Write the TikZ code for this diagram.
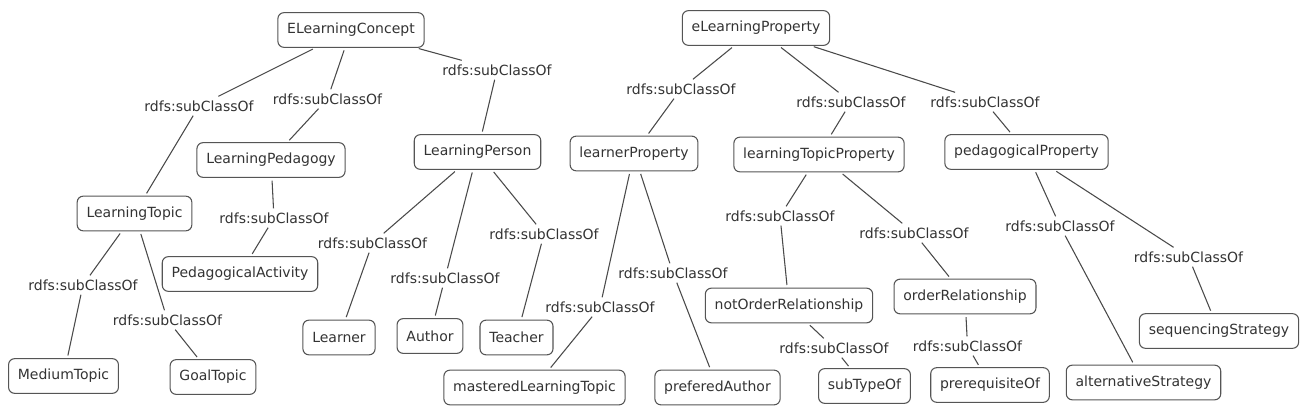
\documentclass[tikz,border=0pt]{standalone}
\usepackage{fontspec}
\setmainfont{DejaVu Sans}
\definecolor{boxc}{HTML}{555555}
\definecolor{linec}{HTML}{4A4A4A}
\definecolor{txtc}{HTML}{333333}
\begin{document}
\begin{tikzpicture}[x=0.75pt,y=-0.75pt,
  cls/.style={draw=boxc, rounded corners=4.5pt, line width=0.8pt, minimum height=26pt, inner xsep=7pt, text=txtc, font=\fontsize{10.5}{12}\selectfont},
  lbl/.style={inner xsep=2pt, inner ysep=3pt, text=txtc, font=\fontsize{10.5}{12}\selectfont},
  ln/.style={draw=linec, line width=0.8pt}]
\fill[white] (0,0) rectangle (1309,420);
\useasboundingbox (0,0) rectangle (1309,420);
% class nodes
\node[cls] (ELC) at (351,30) {ELearningConcept};
\node[cls] (LPed) at (271,160) {LearningPedagogy};
\node[cls] (LT) at (134.5,213.5) {LearningTopic};
\node[cls] (PA) at (240,274) {PedagogicalActivity};
\node[cls] (MT) at (63.5,376) {MediumTopic};
\node[cls] (GT) at (213,377) {GoalTopic};
\node[cls] (LPer) at (477.5,152) {LearningPerson};
\node[cls] (Lrn) at (339,337.5) {Learner};
\node[cls] (Aut) at (430,336) {Author};
\node[cls] (Tea) at (516.5,337.5) {Teacher};
\node[cls] (eLP) at (756,28) {eLearningProperty};
\node[cls] (lP) at (634,153.5) {learnerProperty};
\node[cls] (lTP) at (819,154.5) {learningTopicProperty};
\node[cls] (pP) at (1026.5,152) {pedagogicalProperty};
\node[cls] (mLT) at (534.5,387.5) {masteredLearningTopic};
\node[cls] (pA) at (717.5,387.5) {preferedAuthor};
\node[cls] (nOR) at (789,305.5) {notOrderRelationship};
\node[cls] (oR) at (965,296.5) {orderRelationship};
\node[cls] (sTO) at (864.5,386) {subTypeOf};
\node[cls] (preq) at (990,385) {prerequisiteOf};
\node[cls] (aS) at (1143.5,382.5) {alternativeStrategy};
\node[cls] (sS) at (1219,331) {sequencingStrategy};
% labels
\node[lbl] (l1) at (199,106) {rdfs:subClassOf};
\node[lbl] (l2) at (327.5,99) {rdfs:subClassOf};
\node[lbl] (l3) at (497,70) {rdfs:subClassOf};
\node[lbl] (l4) at (274,218) {rdfs:subClassOf};
\node[lbl] (l5) at (83,285) {rdfs:subClassOf};
\node[lbl] (l6) at (167.5,320) {rdfs:subClassOf};
\node[lbl] (l7) at (372.5,243) {rdfs:subClassOf};
\node[lbl] (l8) at (445,278) {rdfs:subClassOf};
\node[lbl] (l9) at (544,234) {rdfs:subClassOf};
\node[lbl] (l10) at (681,89) {rdfs:subClassOf};
\node[lbl] (l11) at (851,102) {rdfs:subClassOf};
\node[lbl] (l12) at (985,102) {rdfs:subClassOf};
\node[lbl] (l13) at (600,307) {rdfs:subClassOf};
\node[lbl] (l14) at (673,273) {rdfs:subClassOf};
\node[lbl] (l15) at (780,216) {rdfs:subClassOf};
\node[lbl] (l16) at (914,233) {rdfs:subClassOf};
\node[lbl] (l17) at (834,348) {rdfs:subClassOf};
\node[lbl] (l18) at (967.5,346) {rdfs:subClassOf};
\node[lbl] (l19) at (1060,226) {rdfs:subClassOf};
\node[lbl] (l20) at (1188.5,257) {rdfs:subClassOf};
% connectors
\foreach \p/\l/\c in {ELC/l1/LT, ELC/l2/LPed, ELC/l3/LPer, LPed/l4/PA, LT/l5/MT, LT/l6/GT,
  LPer/l7/Lrn, LPer/l8/Aut, LPer/l9/Tea, eLP/l10/lP, eLP/l11/lTP, eLP/l12/pP,
  lP/l13/mLT, lP/l14/pA, lTP/l15/nOR, lTP/l16/oR, nOR/l17/sTO, oR/l18/preq,
  pP/l19/aS, pP/l20/sS}{
  \draw[ln, shorten <=2pt] (\p) -- (\l);
  \draw[ln, shorten >=2pt] (\l) -- (\c);
}
\end{tikzpicture}
\end{document}
